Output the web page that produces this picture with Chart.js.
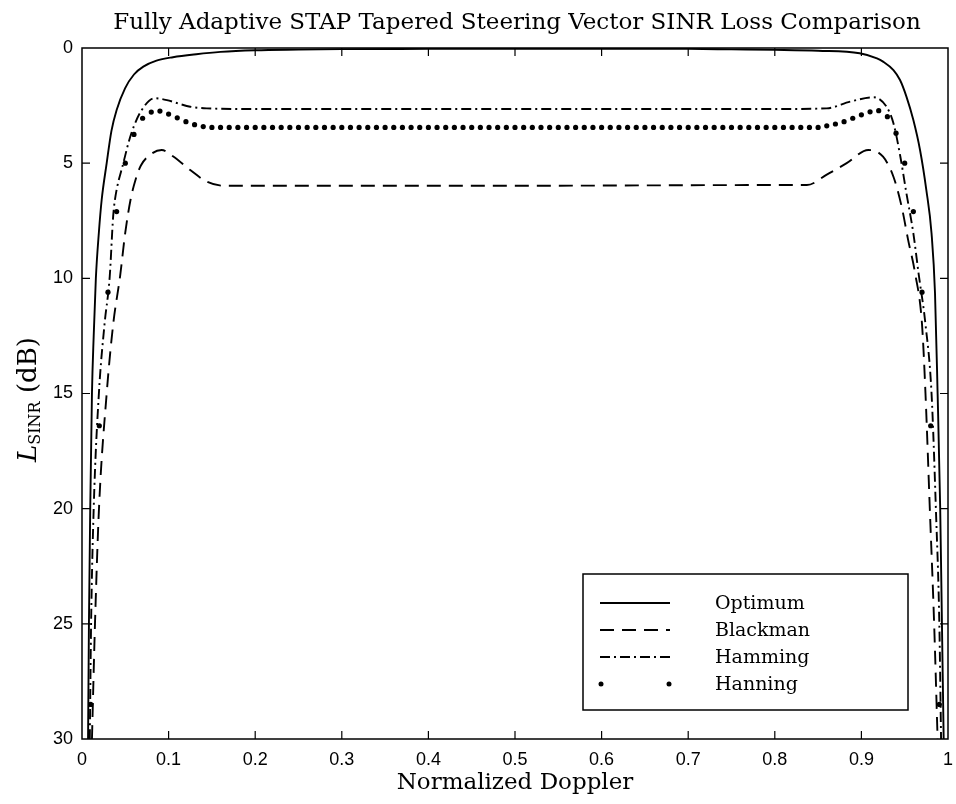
<!DOCTYPE html>
<html>
<head>
<meta charset="utf-8">
<script src="https://cdn.jsdelivr.net/npm/chart.js@4"></script>
<style>
  html, body { margin: 0; padding: 0; background: #fff; }
  #wrap { width: 956px; height: 804px; }
</style>
</head>
<body>
<div id="wrap"><canvas id="lossChart" width="956" height="804"></canvas></div>
<script>
// Values (SINR loss in dB, plotted downward)
const seriesNames = ['Optimum', 'Blackman', 'Hamming', 'Hanning'];

const optimumX = [0.007, 0.008, 0.0095, 0.0115, 0.0135, 0.016, 0.0195, 0.0227, 0.0285, 0.034, 0.040, 0.0497, 0.06, 0.0708, 0.086, 0.105, 0.132, 0.16, 0.2, 0.25, 0.3, 0.4, 0.5, 0.6, 0.7, 0.75, 0.8, 0.85, 0.898, 0.918, 0.925, 0.937, 0.9446, 0.952, 0.960, 0.9677, 0.975, 0.981, 0.985, 0.988, 0.991, 0.993, 0.995];
const optimumLoss = [30, 25, 20, 15, 12.5, 10, 8, 6.6, 5.0, 3.6, 2.69, 1.75, 1.15, 0.81, 0.55, 0.4, 0.27, 0.17, 0.1, 0.07, 0.05, 0.04, 0.03, 0.03, 0.04, 0.06, 0.08, 0.12, 0.23, 0.45, 0.59, 0.96, 1.39, 2.11, 3.13, 4.43, 6.17, 8.05, 10.65, 15, 20, 25, 30];

const blackmanX = [0.0115, 0.015, 0.0196, 0.0285, 0.036, 0.044, 0.05, 0.056, 0.062, 0.068, 0.08, 0.092, 0.105, 0.125, 0.144, 0.163, 0.2, 0.5, 0.8, 0.837, 0.86, 0.883, 0.908, 0.925, 0.937, 0.9465, 0.954, 0.962, 0.97, 0.974, 0.979, 0.984, 0.988];
const blackmanLoss = [30, 25, 20, 15, 12, 9.9, 8.0, 6.6, 5.7, 5.1, 4.6, 4.43, 4.7, 5.3, 5.8, 5.98, 5.98, 5.98, 5.95, 5.95, 5.5, 5.0, 4.43, 4.72, 5.59, 6.89, 8.34, 9.78, 12, 15, 20, 25, 30];

const hammingX = [0.009, 0.0105, 0.0135, 0.0195, 0.026, 0.032, 0.036, 0.038, 0.0477, 0.057, 0.069, 0.084, 0.098, 0.112, 0.125, 0.144, 0.2, 0.5, 0.8, 0.86, 0.887, 0.914, 0.929, 0.937, 0.945, 0.952, 0.96, 0.966, 0.974, 0.981, 0.986, 0.99, 0.992];
const hammingLoss = [30, 25, 20, 15, 12, 9.93, 7.3, 6.6, 5.0, 3.7, 2.69, 2.18, 2.26, 2.42, 2.55, 2.62, 2.65, 2.65, 2.65, 2.62, 2.33, 2.14, 2.55, 3.27, 4.72, 6.31, 8.05, 9.78, 12, 15, 20, 25, 30];

const hanningX = [0.01, 0.02, 0.03, 0.04, 0.05, 0.06, 0.07, 0.08, 0.09, 0.10,
  0.11, 0.12, 0.13, 0.14, 0.15, 0.16, 0.17, 0.18, 0.19, 0.20,
  0.21, 0.22, 0.23, 0.24, 0.25, 0.26, 0.27, 0.28, 0.29, 0.30,
  0.31, 0.32, 0.33, 0.34, 0.35, 0.36, 0.37, 0.38, 0.39, 0.40,
  0.41, 0.42, 0.43, 0.44, 0.45, 0.46, 0.47, 0.48, 0.49, 0.50,
  0.51, 0.52, 0.53, 0.54, 0.55, 0.56, 0.57, 0.58, 0.59, 0.60,
  0.61, 0.62, 0.63, 0.64, 0.65, 0.66, 0.67, 0.68, 0.69, 0.70,
  0.71, 0.72, 0.73, 0.74, 0.75, 0.76, 0.77, 0.78, 0.79, 0.80,
  0.81, 0.82, 0.83, 0.84, 0.85, 0.86, 0.87, 0.88, 0.89, 0.90,
  0.91, 0.92, 0.93, 0.94, 0.95, 0.96, 0.97, 0.98, 0.99];
const hanningLoss = [28.5, 16.4, 10.6, 7.1, 5.0, 3.75, 3.05, 2.78, 2.74, 2.87,
  3.03, 3.2, 3.33, 3.41, 3.45, 3.45, 3.45, 3.45, 3.45, 3.45,
  3.45, 3.45, 3.45, 3.45, 3.45, 3.45, 3.45, 3.45, 3.45, 3.45,
  3.45, 3.45, 3.45, 3.45, 3.45, 3.45, 3.45, 3.45, 3.45, 3.45,
  3.45, 3.45, 3.45, 3.45, 3.45, 3.45, 3.45, 3.45, 3.45, 3.45,
  3.45, 3.45, 3.45, 3.45, 3.45, 3.45, 3.45, 3.45, 3.45, 3.45,
  3.45, 3.45, 3.45, 3.45, 3.45, 3.45, 3.45, 3.45, 3.45, 3.45,
  3.45, 3.45, 3.45, 3.45, 3.45, 3.45, 3.45, 3.45, 3.45, 3.45,
  3.45, 3.45, 3.45, 3.45, 3.45, 3.38, 3.3, 3.2, 3.05, 2.9,
  2.77, 2.72, 2.98, 3.7, 5.0, 7.1, 10.6, 16.4, 28.5];

const dopplerTicks = [0, 0.1, 0.2, 0.3, 0.4, 0.5, 0.6, 0.7, 0.8, 0.9, 1];
const dopplerTickLabels = ['0', '0.1', '0.2', '0.3', '0.4', '0.5', '0.6', '0.7', '0.8', '0.9', '1'];
const lossTicks = [0, 5, 10, 15, 20, 25, 30];

const serif = '"DejaVu Serif", "Liberation Serif", serif';
const sans = '"Liberation Sans", Arial, sans-serif';

function toPoints(xs, ys) {
  return xs.map((x, i) => ({ x: x, y: ys[i] }));
}

// line styles for each series (also used by the legend)
const styles = [
  { dash: [], dots: false },
  { dash: [14, 8], dots: false },
  { dash: [10, 4, 2, 4], dots: false },
  { dash: [], dots: true }
];

// draws title, y label, inward ticks, frame and the boxed legend
const decorPlugin = {
  id: 'decor',
  afterDraw(chart) {
    const ctx = chart.ctx;
    const a = chart.chartArea;
    const xs = chart.scales.x, ys = chart.scales.y;
    ctx.save();

    // frame
    ctx.strokeStyle = '#000';
    ctx.lineWidth = 1.5;
    ctx.setLineDash([]);
    ctx.strokeRect(a.left, a.top, a.right - a.left, a.bottom - a.top);

    // inward ticks
    ctx.lineWidth = 1.2;
    ctx.beginPath();
    dopplerTicks.forEach(v => {
      if (v <= 0 || v >= 1) return;
      const px = xs.getPixelForValue(v);
      ctx.moveTo(px, a.bottom); ctx.lineTo(px, a.bottom - 8);
      ctx.moveTo(px, a.top); ctx.lineTo(px, a.top + 8);
    });
    lossTicks.forEach(v => {
      if (v <= 0 || v >= 30) return;
      const py = ys.getPixelForValue(v);
      ctx.moveTo(a.left, py); ctx.lineTo(a.left + 8, py);
      ctx.moveTo(a.right, py); ctx.lineTo(a.right - 8, py);
    });
    ctx.stroke();

    // title
    ctx.fillStyle = '#000';
    ctx.font = '23px ' + serif;
    ctx.textAlign = 'center';
    ctx.textBaseline = 'middle';
    ctx.fillText('Fully Adaptive STAP Tapered Steering Vector SINR Loss Comparison', (a.left + a.right) / 2 + 2, 23);

    // y axis label: L_SINR (dB)
    ctx.save();
    ctx.translate(27, (a.top + a.bottom) / 2 + 6);
    ctx.rotate(-Math.PI / 2);
    ctx.textAlign = 'left';
    ctx.textBaseline = 'alphabetic';
    const big = '26px ' + serif, small = '16px ' + serif;
    ctx.font = 'italic ' + big;
    const wL = ctx.measureText('L').width;
    ctx.font = small;
    const wS = ctx.measureText('SINR').width;
    ctx.font = big;
    const wD = ctx.measureText(' (dB)').width;
    let x0 = -(wL + wS + wD) / 2;
    ctx.font = 'italic ' + big;
    ctx.fillText('L', x0, 9);
    x0 += wL;
    ctx.font = small;
    ctx.fillText('SINR', x0, 13);
    x0 += wS;
    ctx.font = big;
    ctx.fillText(' (dB)', x0, 9);
    ctx.restore();

    // legend box
    const lx = 583, ly = 574, lw = 325, lh = 136;
    ctx.fillStyle = '#fff';
    ctx.fillRect(lx, ly, lw, lh);
    ctx.lineWidth = 1.5;
    ctx.strokeRect(lx, ly, lw, lh);
    ctx.font = '19px ' + serif;
    ctx.textAlign = 'left';
    ctx.textBaseline = 'middle';
    const rowY = [603, 630, 657, 684];
    seriesNames.forEach((name, i) => {
      const y = rowY[i];
      const st = styles[i];
      ctx.strokeStyle = '#000';
      ctx.fillStyle = '#000';
      if (st.dots) {
        [601, 669].forEach(px => {
          ctx.beginPath();
          ctx.arc(px, y, 2.5, 0, Math.PI * 2);
          ctx.fill();
        });
      } else {
        ctx.lineWidth = 1.8;
        ctx.setLineDash(st.dash);
        ctx.beginPath();
        ctx.moveTo(600, y);
        ctx.lineTo(670, y);
        ctx.stroke();
        ctx.setLineDash([]);
      }
      ctx.fillText(name, 715, y + 1);
    });
    ctx.restore();
  }
};

const datasets = [
  {
    label: seriesNames[0],
    data: toPoints(optimumX, optimumLoss),
    borderColor: '#000', borderWidth: 1.9,
    pointRadius: 0, cubicInterpolationMode: 'monotone'
  },
  {
    label: seriesNames[1],
    data: toPoints(blackmanX, blackmanLoss),
    borderColor: '#000', borderWidth: 1.9, borderDash: styles[1].dash,
    pointRadius: 0, cubicInterpolationMode: 'monotone'
  },
  {
    label: seriesNames[2],
    data: toPoints(hammingX, hammingLoss),
    borderColor: '#000', borderWidth: 1.9, borderDash: styles[2].dash,
    pointRadius: 0, cubicInterpolationMode: 'monotone'
  },
  {
    label: seriesNames[3],
    data: toPoints(hanningX, hanningLoss),
    showLine: false,
    pointRadius: 2.6, pointBackgroundColor: '#000', pointBorderWidth: 0,
    borderColor: '#000'
  }
];

const chart = new Chart(document.getElementById('lossChart'), {
  type: 'line',
  data: { datasets: datasets },
  plugins: [decorPlugin],
  options: {
    responsive: false,
    animation: false,
    events: [],
    layout: { padding: { top: 48, right: 8, bottom: 0, left: 0 } },
    plugins: { legend: { display: false }, tooltip: { enabled: false } },
    scales: {
      x: {
        type: 'linear', min: 0, max: 1,
        afterBuildTicks: s => { s.ticks = dopplerTicks.map(v => ({ value: v })); },
        afterFit: s => { s.height = 65; s.paddingLeft = 0; s.paddingRight = 0; },
        grid: { display: false, drawTicks: false },
        border: { display: false },
        ticks: {
          color: '#000', padding: 10, maxRotation: 0,
          font: { family: sans, size: 18 },
          callback: (v, i) => dopplerTickLabels[i]
        },
        title: {
          display: true, text: 'Normalized Doppler', color: '#000',
          font: { family: serif, size: 23 }, padding: { top: 0, bottom: 7 }
        }
      },
      y: {
        type: 'linear', min: 0, max: 30, reverse: true,
        afterBuildTicks: s => { s.ticks = lossTicks.map(v => ({ value: v })); },
        afterFit: s => { s.width = 82; s.paddingTop = 0; s.paddingBottom = 0; },
        grid: { display: false, drawTicks: false },
        border: { display: false },
        ticks: {
          color: '#000', padding: 9,
          font: { family: sans, size: 18 }
        }
      }
    }
  }
});
</script>
</body>
</html>
